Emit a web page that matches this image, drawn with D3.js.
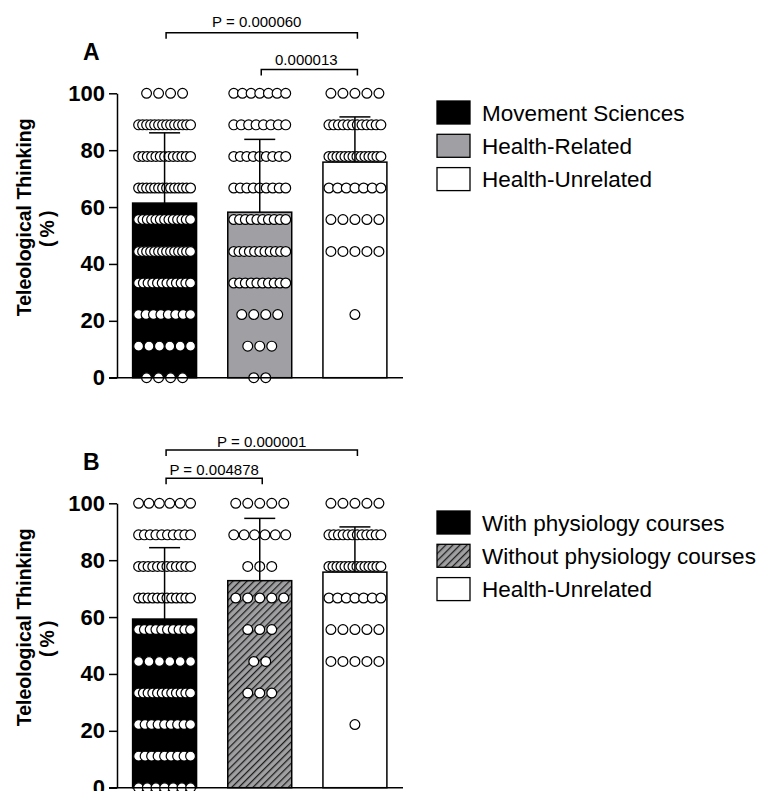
<!DOCTYPE html>
<html><head><meta charset="utf-8">
<script src="https://cdn.jsdelivr.net/npm/d3@7"></script>
<style>body{margin:0;background:#fff}svg{display:block}</style>
</head><body><svg id="c" width="771" height="791"></svg>
<script>
// ---------- DATA ----------
const scoreLevels = [0, 11.1, 22.2, 33.3, 44.4, 55.6, 66.7, 77.8, 88.9, 100];
const yTicks = [0, 20, 40, 60, 80, 100];

const groupsA = ["Movement Sciences", "Health-Related", "Health-Unrelated"];
const meansA = [61.4, 58.2, 75.8];
const sdA = [24.7, 25.6, 15.9];
const countsA_MS = [4, 6, 8, 12, 14, 13, 14, 13, 14, 4];
const countsA_HR = [2, 3, 4, 10, 11, 10, 9, 9, 8, 7];
const countsA_HU = [0, 0, 1, 0, 5, 5, 7, 14, 12, 5];
const pLabelsA = ["P = 0.000060", "0.000013"];
const pPairsA = [[0, 2], [1, 2]];

const groupsB = ["With physiology courses", "Without physiology courses", "Health-Unrelated"];
const meansB = [59.3, 72.8, 75.8];
const sdB = [25.1, 21.9, 15.9];
const countsB_With = [7, 9, 9, 12, 6, 10, 12, 12, 10, 6];
const countsB_Without = [0, 0, 0, 3, 2, 3, 5, 3, 6, 5];
const countsB_HU = [0, 0, 1, 0, 5, 5, 7, 14, 12, 5];
const pLabelsB = ["P = 0.000001", "P = 0.004878"];
const pPairsB = [[0, 2], [0, 1]];

// ---------- DRAW ----------
const FONT = "'Liberation Sans', Arial, Helvetica, sans-serif";
const svg = d3.select("#c");
const defs = svg.append("defs");
const hatch = defs.append("pattern").attr("id", "hatch")
  .attr("patternUnits", "userSpaceOnUse").attr("width", 5).attr("height", 5)
  .attr("patternTransform", "rotate(45)");
hatch.append("rect").attr("width", 5).attr("height", 5).attr("fill", "#a0a0a2");
hatch.append("line").attr("x1", 0.6).attr("y1", 0).attr("x2", 0.6).attr("y2", 5)
  .attr("stroke", "#1e1e1e").attr("stroke-width", 1.3);

const fillsA = ["#000000", "#a0a0a4", "#ffffff"];
const fillsB = ["#000000", "url(#hatch)", "#ffffff"];

function drawPanel(o) {
  const g = svg.append("g");
  const x = d3.scaleBand().domain(o.groups).range([117, 402.5])
    .paddingInner(0.328).paddingOuter(0.164);
  const y = d3.scaleLinear().domain([0, 100]).range([o.top + 284.4, o.top]);

  // bars
  g.selectAll("rect.bar").data(o.groups).join("rect")
    .attr("x", d => x(d)).attr("width", x.bandwidth())
    .attr("y", (d, i) => y(o.means[i]))
    .attr("height", (d, i) => y(0) - y(o.means[i]))
    .attr("fill", (d, i) => o.fills[i]).attr("stroke", "#000").attr("stroke-width", 1.5);

  // dots
  const maxSpread = x.bandwidth() - 12;
  o.counts.forEach((cnts, gi) => {
    const cx = x(o.groups[gi]) + x.bandwidth() / 2;
    cnts.forEach((n, li) => {
      if (!n) return;
      const step = n > 1 ? Math.min(12, maxSpread / (n - 1)) : 0;
      for (let k = 0; k < n; k++) {
        g.append("circle")
          .attr("cx", cx + (k - (n - 1) / 2) * step)
          .attr("cy", y(scoreLevels[li]))
          .attr("r", 4.9).attr("fill", "#fff").attr("stroke", "#000").attr("stroke-width", 1.2);
      }
    });
  });

  // error bars
  o.groups.forEach((d, i) => {
    const cx = x(d) + x.bandwidth() / 2;
    g.append("line").attr("x1", cx).attr("x2", cx)
      .attr("y1", y(o.means[i])).attr("y2", y(o.means[i] + o.sd[i]))
      .attr("stroke", "#000").attr("stroke-width", 1.5);
    g.append("line").attr("x1", cx - 15.5).attr("x2", cx + 15.5)
      .attr("y1", y(o.means[i] + o.sd[i])).attr("y2", y(o.means[i] + o.sd[i]))
      .attr("stroke", "#000").attr("stroke-width", 1.5);
  });

  // axes
  const ya = d3.axisLeft(y).tickValues(yTicks).tickSize(8).tickSizeOuter(0).tickPadding(4);
  const yg = g.append("g").attr("transform", "translate(117,0)").call(ya);
  yg.select(".domain").attr("stroke-width", 1.5);
  yg.selectAll(".tick line").attr("stroke-width", 1.5);
  yg.selectAll(".tick text").attr("font-family", FONT).attr("font-size", 22)
    .attr("font-weight", "bold").attr("fill", "#000");
  g.append("line").attr("x1", 109).attr("x2", 403).attr("y1", y(0)).attr("y2", y(0))
    .attr("stroke", "#000").attr("stroke-width", 1.5);

  // y title
  const tc = o.top + 124;
  g.append("text").attr("transform", `translate(31,${tc}) rotate(-90)`)
    .attr("text-anchor", "middle").attr("font-family", FONT).attr("font-size", 19.5)
    .attr("font-weight", "bold").text("Teleological Thinking");
  g.append("text").attr("transform", `translate(54,${tc + 10}) rotate(-90)`)
    .attr("text-anchor", "middle").attr("font-family", FONT).attr("font-size", 19.5)
    .attr("font-weight", "bold").attr("letter-spacing", 3).text("(%)");

  // panel letter
  g.append("text").attr("x", 83).attr("y", o.top + o.letterDy)
    .attr("font-family", FONT).attr("font-size", 23).attr("font-weight", "bold").text(o.letter);

  // brackets
  o.pairs.forEach((p, i) => {
    const b = o.brackets[i];
    const x1 = x(o.groups[p[0]]) + x.bandwidth() / 2 + 1.5;
    const x2 = x(o.groups[p[1]]) + x.bandwidth() / 2 + 2.5;
    g.append("path")
      .attr("d", `M${x1},${b.y + 6}V${b.y}H${x2}V${b.y + 6}`)
      .attr("fill", "none").attr("stroke", "#000").attr("stroke-width", 1.5);
    g.append("text").attr("x", (x1 + x2) / 2 + b.dx).attr("y", b.ty)
      .attr("text-anchor", "middle").attr("font-family", FONT).attr("font-size", 15)
      .text(o.pLabels[i]);
  });

  // legend
  o.groups.forEach((d, i) => {
    const ly = o.legendTop + i * 33.3;
    g.append("rect").attr("x", 437).attr("y", ly).attr("width", 33).attr("height", 23)
      .attr("fill", o.fills[i]).attr("stroke", "#000").attr("stroke-width", 1.3);
    g.append("text").attr("x", 482).attr("y", ly + 11.5).attr("dy", "0.36em")
      .attr("font-family", FONT).attr("font-size", 22.5).text(d);
  });
}

drawPanel({
  top: 93.3, groups: groupsA, means: meansA, sd: sdA, fills: fillsA,
  counts: [countsA_MS, countsA_HR, countsA_HU], letter: "A", letterDy: -33,
  pairs: pPairsA, pLabels: pLabelsA,
  brackets: [{ y: 32.7, ty: 26.5, dx: -5 }, { y: 69.5, ty: 64.5, dx: -3 }],
  legendTop: 101
});
drawPanel({
  top: 503.3, groups: groupsB, means: meansB, sd: sdB, fills: fillsB,
  counts: [countsB_With, countsB_Without, countsB_HU], letter: "B", letterDy: -33,
  pairs: pPairsB, pLabels: pLabelsB,
  brackets: [{ y: 450, ty: 446.5, dx: 0 }, { y: 478.3, ty: 474.8, dx: 0 }],
  legendTop: 511
});
</script></body></html>
